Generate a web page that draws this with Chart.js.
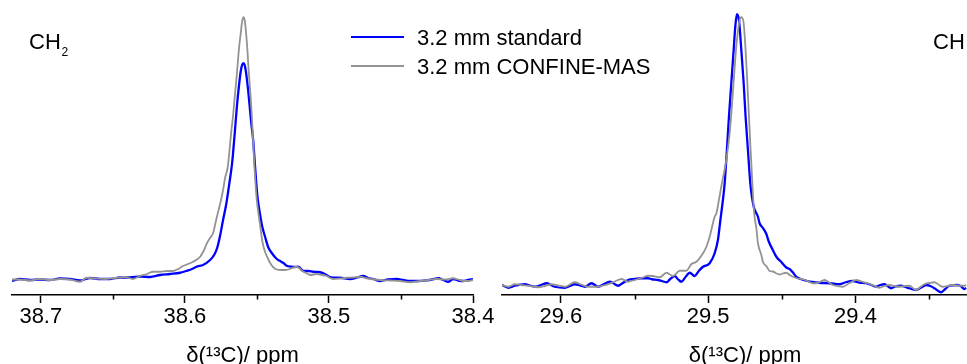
<!DOCTYPE html>
<html>
<head>
<meta charset="utf-8">
<script src="https://cdn.jsdelivr.net/npm/chart.js@4.4.1/dist/chart.umd.min.js"></script>
<style>
html,body{margin:0;padding:0;background:#fff;}
#wrap{position:relative;width:967px;height:364px;overflow:hidden;font-family:"Liberation Sans",Arial,sans-serif;color:#000;}
canvas{position:absolute;top:0;left:0;}
.t{position:absolute;white-space:nowrap;font-size:22px;line-height:22px;}
.s{position:absolute;white-space:nowrap;font-size:12px;line-height:12px;}
.ln{position:absolute;height:2px;}
</style>
</head>
<body>
<div id="wrap">
  <canvas id="cL" width="967" height="380"></canvas>
  <canvas id="cR" width="1000" height="380"></canvas>
  <div class="t" id="lab1" style="left:29px;top:30.7px;"></div>
  <div class="s" id="lab1s" style="left:61.5px;top:45.8px;"></div>
  <div class="t" id="lab2" style="left:933px;top:30.7px;"></div>
  <div class="ln" id="lg1" style="left:351px;top:36.3px;width:53px;"></div>
  <div class="t" id="lgt1" style="left:417px;top:26.6px;"></div>
  <div class="ln" id="lg2" style="left:351px;top:64.7px;width:53px;"></div>
  <div class="t" id="lgt2" style="left:417px;top:55.6px;"></div>
</div>
<script>
// ---------- data ----------
const SERIES = ['3.2 mm standard', '3.2 mm CONFINE-MAS'];
const PANEL_LABELS = [['CH', '2'], ['CH', '']];
const AXIS_TITLE = 'δ(¹³C)/ ppm';

const LEFT_TICKS = [38.7, 38.6, 38.5, 38.4];
const LEFT_MINOR = [38.65, 38.55, 38.45];
const RIGHT_TICKS = [29.6, 29.5, 29.4];
const RIGHT_MINOR = [29.55, 29.45, 29.35];

// CH2 panel, standard rotor
const LEFT_PPM_STD = [38.7200,38.7144,38.7075,38.7006,38.6936,38.6867,38.6797,38.6728,38.6658,38.6589,38.6519,38.6450,38.6381,38.6311,38.6242,38.6172,38.6103,38.6033,38.5992,38.5950,38.5915,38.5874,38.5825,38.5797,38.5776,38.5756,38.5735,38.5714,38.5693,38.5672,38.5655,38.5638,38.5624,38.5613,38.5603,38.5594,38.5585,38.5575,38.5561,38.5551,38.5540,38.5526,38.5516,38.5506,38.5495,38.5481,38.5464,38.5443,38.5422,38.5397,38.5362,38.5339,38.5316,38.5290,38.5269,38.5242,38.5212,38.5177,38.5144,38.5108,38.5075,38.5038,38.4992,38.4922,38.4853,38.4804,38.4763,38.4728,38.4693,38.4644,38.4589,38.4528,38.4485,38.4436,38.4381,38.4320,38.4283,38.4240,38.4207,38.4170,38.4138,38.4103,38.4068,38.4033,38.4000];
const LEFT_INT_STD = [-0.4,0.4,0,0.2,0,0.6,0.4,-0.2,0.8,0.4,0.4,1.0,1.0,1.4,1.2,2.0,2.4,2.9,3.6,4.4,5.4,6.0,8.0,10.0,12.8,17.6,24.0,30.0,38.0,46.8,58.0,70.0,78.0,83.2,86.0,86.7,86.0,82.8,76.0,70.0,63.2,56.0,48.0,40.0,32.8,27.2,21.6,17.2,13.2,10.8,8.4,7.6,6.8,5.6,5.4,5.2,5.3,3.6,3.6,3.3,3.2,2.7,1.2,0.9,0.4,1.0,1.6,0.8,0.4,-0.4,0.2,0.4,0,-0.4,-0.4,-0.1,0.2,0.7,0,-0.7,0.4,-0.2,-0.4,0,0.3];

// CH2 panel, CONFINE-MAS
const LEFT_PPM_CONF = [38.7200,38.7144,38.7075,38.7006,38.6936,38.6867,38.6797,38.6728,38.6681,38.6624,38.6554,38.6485,38.6415,38.6360,38.6311,38.6263,38.6221,38.6172,38.6124,38.6082,38.6047,38.6013,38.5978,38.5943,38.5894,38.5867,38.5846,38.5825,38.5804,38.5783,38.5766,38.5749,38.5735,38.5721,38.5702,38.5690,38.5679,38.5665,38.5656,38.5644,38.5635,38.5624,38.5612,38.5603,38.5594,38.5585,38.5575,38.5566,38.5559,38.5551,38.5542,38.5535,38.5529,38.5517,38.5509,38.5501,38.5488,38.5478,38.5466,38.5457,38.5443,38.5422,38.5408,38.5388,38.5362,38.5332,38.5304,38.5283,38.5258,38.5223,38.5207,38.5188,38.5158,38.5131,38.5084,38.5047,38.5015,38.4971,38.4922,38.4876,38.4832,38.4783,38.4749,38.4714,38.4644,38.4575,38.4506,38.4436,38.4367,38.4311,38.4251,38.4193,38.4138,38.4103,38.4068,38.4033,38.4000];
const LEFT_INT_CONF = [0.2,0.2,-0.2,0.4,0,0.4,0.2,-0.7,0.9,0.6,0.4,0.8,1.2,0.4,1.6,2.4,3.3,3.3,3.6,3.6,4.4,5.6,6.4,7.3,9.3,12.0,14.8,16.8,18.8,24.0,28.0,32.0,36.0,40.8,45.3,52.0,58.8,66.0,72.0,79.2,85.3,92.8,98.8,103.2,105.1,104.0,98.8,92.0,85.3,78.8,72.0,65.2,58.8,45.3,38.0,32.0,26.0,22.0,16.8,14.0,11.2,8.4,6.8,5.2,4.2,4.0,4.0,4.2,4.7,5.3,4.8,3.7,2.8,2.0,2.4,2.0,1.6,0.4,0.6,0.9,1.0,1.3,0.8,0.4,0,-0.2,-0.4,-0.9,-0.4,0,0.4,0.2,0.7,0.2,-0.4,-0.4,0];

// CH panel, standard rotor
const RIGHT_PPM_STD = [29.6400,29.6357,29.6312,29.6244,29.6210,29.6176,29.6136,29.6097,29.6068,29.6041,29.5973,29.5939,29.5905,29.5871,29.5837,29.5792,29.5747,29.5708,29.5668,29.5641,29.5612,29.5580,29.5544,29.5498,29.5453,29.5408,29.5383,29.5340,29.5315,29.5283,29.5261,29.5227,29.5207,29.5182,29.5159,29.5125,29.5092,29.5064,29.5035,29.4990,29.4956,29.4934,29.4917,29.4900,29.4888,29.4873,29.4859,29.4843,29.4827,29.4816,29.4805,29.4791,29.4775,29.4759,29.4746,29.4730,29.4714,29.4692,29.4662,29.4651,29.4628,29.4605,29.4590,29.4561,29.4536,29.4504,29.4470,29.4447,29.4427,29.4402,29.4373,29.4334,29.4292,29.4244,29.4176,29.4108,29.4061,29.4018,29.3973,29.3928,29.3892,29.3860,29.3831,29.3803,29.3783,29.3758,29.3729,29.3690,29.3661,29.3634,29.3589,29.3559,29.3521,29.3492,29.3464,29.3419,29.3390,29.3363,29.3306,29.3281,29.3261,29.3248];
const RIGHT_INT_STD = [-0.4,-1.5,-0.7,-0.1,-0.6,-1.1,-0.4,0.3,-0.4,-1.1,-1.5,-0.8,-0.1,-0.6,-1.1,0.3,-1.1,0,0.9,0.2,-0.7,0.4,1.6,2.0,2.3,2.3,1.9,1.6,1.2,0.7,1.8,3.2,2.0,0.9,2.4,4.5,3.2,5.2,6.9,8.3,12.3,17.6,25.6,33.6,40.3,53.6,66.9,80.3,93.6,102.9,107.9,105.6,93.6,80.3,66.9,53.6,40.3,31.2,26.9,24.3,22.4,20.0,17.2,13.6,10.8,8.8,6.6,6.0,4.8,2.9,2.0,1.3,0.8,0.5,0.3,-0.1,0.8,1.2,0.6,0.3,-0.4,-1.1,-0.4,-0.1,-0.8,-1.7,-1.0,-0.7,-1.2,-1.7,-2.4,-1.6,-0.4,-0.8,-1.7,-3.3,-2.0,-0.7,-0.4,-1.0,-2.0,-1.6];

// CH panel, CONFINE-MAS
const RIGHT_PPM_CONF = [29.6400,29.6357,29.6312,29.6271,29.6222,29.6154,29.6109,29.6063,29.6020,29.5973,29.5939,29.5905,29.5864,29.5815,29.5747,29.5715,29.5679,29.5634,29.5588,29.5544,29.5512,29.5476,29.5444,29.5408,29.5376,29.5329,29.5283,29.5239,29.5193,29.5148,29.5114,29.5080,29.5035,29.5012,29.4990,29.4956,29.4944,29.4927,29.4911,29.4877,29.4854,29.4836,29.4820,29.4805,29.4786,29.4773,29.4759,29.4746,29.4734,29.4723,29.4712,29.4700,29.4692,29.4685,29.4673,29.4662,29.4639,29.4628,29.4605,29.4583,29.4561,29.4542,29.4515,29.4495,29.4470,29.4447,29.4425,29.4393,29.4357,29.4325,29.4290,29.4258,29.4210,29.4154,29.4086,29.4041,29.3995,29.3959,29.3917,29.3878,29.3837,29.3803,29.3770,29.3736,29.3702,29.3668,29.3634,29.3589,29.3559,29.3532,29.3498,29.3464,29.3431,29.3408,29.3376,29.3340,29.3309,29.3261,29.3248];
const RIGHT_INT_CONF = [-0.4,-1.1,-0.1,-0.4,-0.7,-1.3,-0.8,-0.1,-0.6,-1.1,-0.2,0.7,-0.2,-1.1,-1.1,-0.6,-0.1,1.0,2.0,0.9,1.4,2.0,2.6,3.3,3.2,2.7,4.5,3.2,5.3,5.3,8.0,8.9,12.3,14.9,18.9,26.9,28.3,33.6,38.9,49.6,60.4,73.6,86.9,97.6,105.6,106.7,104.3,93.6,80.3,66.9,53.6,40.3,31.6,26.9,22.4,16.3,11.6,8.8,7.2,5.2,5.0,4.4,3.8,4.2,4.5,3.6,2.9,2.2,1.9,1.2,0.3,0.4,1.6,-0.4,-1.1,0.4,1.6,1.0,0.3,-0.6,-1.5,-0.8,-0.4,-0.8,-1.1,-0.8,-0.7,-2.4,-1.2,-0.1,0.4,0.7,-0.4,-1.1,-0.8,-0.4,-0.6,-0.7,-0.4];

// ---------- styling ----------
const BLUE = '#0000ff';
const GRAY = '#939393';
Chart.defaults.font.family = '"Liberation Sans", Arial, sans-serif';
Chart.defaults.color = '#000';

function pts(xs, ys) { return xs.map((x, i) => ({ x: x, y: ys[i] })); }

function minorTickPlugin(values) {
  return {
    id: 'minorTicks',
    afterDraw(chart) {
      const s = chart.scales.x, ctx = chart.ctx;
      ctx.save();
      ctx.strokeStyle = '#000';
      ctx.lineWidth = 1.5;
      values.forEach(v => {
        const px = Math.round(s.getPixelForValue(v)) + 0.5;
        ctx.beginPath();
        ctx.moveTo(px, s.top);
        ctx.lineTo(px, s.top + 4.5);
        ctx.stroke();
      });
      ctx.restore();
    }
  };
}

function panel(id, cfg) {
  return new Chart(document.getElementById(id), {
    type: 'line',
    data: {
      datasets: [
        { label: SERIES[1], data: pts(cfg.ppmConf, cfg.intConf), borderColor: GRAY, borderWidth: 1.8 },
        { label: SERIES[0], data: pts(cfg.ppmStd, cfg.intStd), borderColor: BLUE, borderWidth: 2.3 }
      ]
    },
    options: {
      responsive: false,
      animation: false,
      devicePixelRatio: 1,
      events: [],
      layout: { padding: { left: cfg.padLeft, right: cfg.padRight, top: 10, bottom: 0 } },
      elements: {
        point: { radius: 0 },
        line: { cubicInterpolationMode: 'monotone', borderJoinStyle: 'round', fill: false }
      },
      plugins: { legend: { display: false }, tooltip: { enabled: false } },
      scales: {
        x: {
          type: 'linear',
          reverse: true,
          min: cfg.xMin,
          max: cfg.xMax,
          afterBuildTicks: s => { s.ticks = cfg.ticks.map(v => ({ value: v })); },
          afterFit: s => { s.height = 85; s.paddingLeft = 0; s.paddingRight = 0; },
          border: { display: true, color: '#000', width: 1.5 },
          grid: { drawOnChartArea: false, drawTicks: true, tickLength: 8, tickColor: '#000', tickWidth: 1.5 },
          ticks: { padding: 1, color: '#000', font: { size: 22 }, autoSkip: false, maxRotation: 0,
                   callback: v => Number(v).toFixed(1) },
          title: { display: true, text: AXIS_TITLE, color: '#000', font: { size: 22 },
                   padding: { top: 0, bottom: 11 } }
        },
        y: { display: false, min: cfg.yMin, max: cfg.yMax }
      }
    },
    plugins: [minorTickPlugin(cfg.minor)]
  });
}

panel('cL', {
  ppmStd: LEFT_PPM_STD, intStd: LEFT_INT_STD, ppmConf: LEFT_PPM_CONF, intConf: LEFT_INT_CONF,
  xMin: 38.40, xMax: 38.72, yMin: -6, yMax: 108,
  ticks: LEFT_TICKS, minor: LEFT_MINOR, padLeft: 12, padRight: 494
});
panel('cR', {
  ppmStd: RIGHT_PPM_STD, intStd: RIGHT_INT_STD, ppmConf: RIGHT_PPM_CONF, intConf: RIGHT_INT_CONF,
  xMin: 29.31, xMax: 29.64, yMin: -4.4, yMax: 109.6,
  ticks: RIGHT_TICKS, minor: RIGHT_MINOR, padLeft: 502, padRight: 12
});

// ---------- annotations & legend (real text) ----------
document.getElementById('lab1').textContent = PANEL_LABELS[0][0];
document.getElementById('lab1s').textContent = PANEL_LABELS[0][1];
document.getElementById('lab2').textContent = PANEL_LABELS[1][0];
document.getElementById('lg1').style.background = BLUE;
document.getElementById('lg2').style.background = GRAY;
document.getElementById('lgt1').textContent = SERIES[0];
document.getElementById('lgt2').textContent = SERIES[1];
</script>
</body>
</html>
